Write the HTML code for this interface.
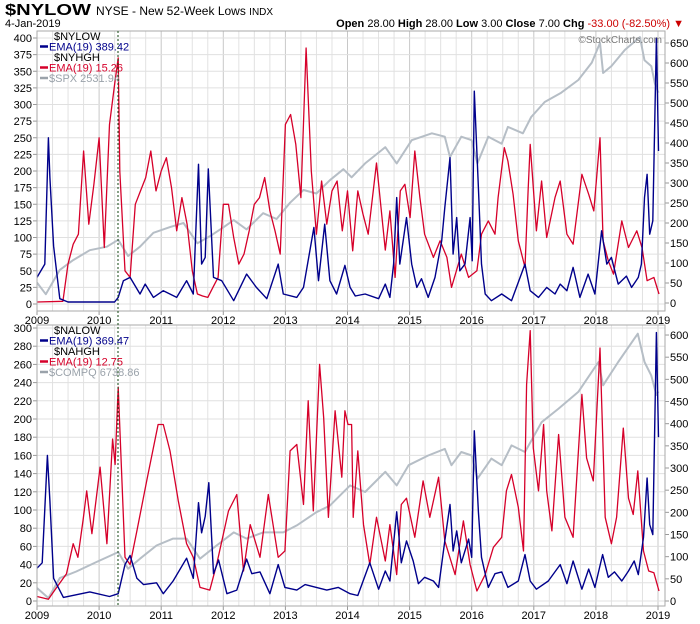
<!DOCTYPE html>
<html><head><meta charset="utf-8"><style>
body{margin:0;background:#fff;font-family:"Liberation Sans",sans-serif;}
svg{display:block}
</style></head><body>
<svg id="c" width="700" height="624" viewBox="0 0 700 624">
<text x="5" y="15" font-size="16" font-weight="bold" fill="#000" textLength="86" lengthAdjust="spacingAndGlyphs">$NYLOW</text>
<text x="96" y="15" font-size="12" fill="#000">NYSE - New 52-Week Lows <tspan font-size="10">INDX</tspan></text>
<text x="5" y="27" font-size="11" fill="#000">4-Jan-2019</text>
<text x="684" y="27" font-size="11" text-anchor="end" fill="#000"><tspan font-weight="bold">Open</tspan> 28.00  <tspan font-weight="bold">High</tspan> 28.00  <tspan font-weight="bold">Low</tspan> 3.00  <tspan font-weight="bold">Close</tspan> 7.00  <tspan font-weight="bold">Chg</tspan> <tspan fill="#c00">-33.00 (-82.50%)</tspan> <tspan fill="#c00">▼</tspan></text>
<g id="g"></g>
<text x="662" y="43" font-size="10" text-anchor="end" fill="#777">©StockCharts.com</text>
</svg>
<script>
// ---- data (months since Jan 2009) ----
const years=[2009,2010,2011,2012,2013,2014,2015,2016,2017,2018,2019];
const topLeftTicks=[0,25,50,75,100,125,150,175,200,225,250,275,300,325,350,375,400];
const topRightTicks=[0,50,100,150,200,250,300,350,400,450,500,550,600,650];
const botLeftTicks=[0,20,40,60,80,100,120,140,160,180,200,220,240,260,280,300];
const botRightTicks=[0,50,100,150,200,250,300,350,400,450,500,550,600];

const nyhghT=[0,5,6,7,8,9,10,11,12,13,14,15,15.7,16,17,18,19,20,21,22,23,24,25,26,27,28,29,30,31,32,33,34,35,36,37,38,39,40,41,42,43,44,45,46,47,48,49,50,51,52,53,54,55,56,57,58,59,60,61,62,63,64,65.6,67.3,68.2,69.2,70.2,71.1,72.1,73,74,74.9,76.6,77.9,79.2,80.1,82,83.4,85,85.9,87.2,88.5,89.1,90.3,91,92,93,94.3,94.9,95.3,96.5,97.5,98.5,100.1,101.1,102.4,103.6,105.3,106.6,107.6,108.8,109.4,110.4,111.4,113,114.3,115.9,116.9,117.9,119.2,120.2];
const nyhghV=[3,4,60,90,105,230,120,180,250,85,270,330,370,200,50,40,150,170,190,230,170,200,220,175,110,160,120,50,15,12,10,25,40,150,150,100,60,75,110,150,160,190,140,110,75,270,285,240,160,385,200,105,185,120,170,185,110,170,80,170,135,105,212,81,140,40,170,180,130,230,160,105,70,95,70,25,75,40,50,105,125,105,160,235,215,165,95,55,170,240,110,185,100,160,185,105,90,195,165,140,250,95,65,45,125,85,110,85,35,40,15];
const nylowT=[0,1.5,2.2,2.5,3.2,4.4,6,10,15,15.7,16.7,18,19.9,20.9,22.5,24.4,27,28.9,30.2,31.2,31.8,32.5,33.1,34.1,35.7,38,40.5,42.4,44.4,46.6,47.6,50.2,51.5,53.5,54.4,55.6,56.6,57.9,59.5,60.5,61.5,63.4,66,67.3,68.2,68.9,69.5,70.1,71.4,72.4,73.4,74.3,75.6,76.9,78.2,78.8,79.8,80.4,81.1,81.7,82.7,83.7,84.1,84.5,85.3,85.9,86.6,87.8,89.8,91.7,94.3,95.3,96.9,98.5,100.1,101.1,102.4,103.6,104.9,106.5,107.8,109.1,110.1,111,112.3,113.9,114.9,116.2,116.8,117.4,117.9,118.4,119,119.7,120.1];
const nylowV=[40,60,250,190,87,8,3,3,3,10,35,40,15,30,10,20,10,35,15,210,60,70,203,40,35,5,45,25,8,60,15,10,25,115,35,120,35,15,58,25,12,15,8,30,10,60,160,60,130,60,25,38,10,40,95,145,220,75,130,50,60,130,65,320,175,60,15,5,15,5,60,20,10,25,15,30,20,55,10,45,15,110,60,70,30,42,25,40,60,160,195,105,125,400,230];
const spxT=[0,1.7,4.4,7,10.2,13.5,15.7,17.6,19.9,22.5,25.7,28.3,31,33.4,36.1,38,40.5,43.7,46.3,48.9,51.5,54,56.6,59.2,60.8,63.4,67.3,69.5,72.4,76.3,78.8,79.8,82,84,85.1,87.2,89.8,91,93.9,95.5,98.1,101.3,104.6,107.2,108.8,109.4,111,113.6,116.5,117.4,118.7,119.4,120.1];
const spxV=[800,700,910,995,1080,1110,1170,1030,1110,1230,1280,1315,1140,1200,1280,1340,1260,1400,1350,1490,1600,1570,1685,1780,1710,1830,1970,1830,2030,2090,2060,1885,2060,2030,1830,2060,2000,2145,2090,2230,2360,2440,2550,2700,2870,2610,2670,2810,2920,2720,2670,2520,2440];

const nahghT=[0,2.2,3.8,5.7,7,7.9,8.9,9.6,10.6,12.2,13.5,14.6,15.1,15.7,17,18,19.3,21.2,23.4,24.4,25.7,27.3,28.9,30.2,31.5,33.4,34.7,37,38.6,39.9,41.2,43.1,44.7,46.6,47.9,48.9,50.2,51.5,52.4,53.4,54.6,55.4,56.3,57.6,58.9,59.5,60.1,60.8,61.1,62,63.1,64.3,65.6,67.3,68.2,69.5,70.4,71.4,73,74.6,75.9,77.6,78.8,80.8,82.4,83.7,85,86.6,88.2,89.8,90.7,91.7,93,94,94.6,95.3,95.9,96.9,97.9,98.5,99.5,100.8,102,103.6,105.3,106.2,107.5,108.8,109.8,111,112,113.3,114.3,115.2,116.1,117.2,118.2,119.2,120.2];
const nahghV=[5,2,15,30,63,48,89,121,74,147,63,178,150,235,48,40,77,132,194,194,165,110,63,48,15,12,40,99,117,33,84,48,117,48,55,165,172,106,220,99,260,201,92,209,136,209,194,194,92,165,84,40,92,44,84,29,106,113,70,132,92,136,66,29,88,40,11,29,59,70,121,139,103,55,238,297,168,121,194,121,77,183,92,70,227,157,132,278,92,63,92,190,113,95,143,55,33,31,11];
const nalowT=[0,1,2,2.5,3.2,5.1,10.2,14,15.7,17,18,19.3,20.6,23.1,24.4,26.3,28.9,30.2,31.2,31.8,32.5,33.2,34.1,35.1,36.7,38.6,40.5,41.5,43.1,45,46.6,47.9,50.2,51.8,54,56,58.2,60.5,62,64.3,66,67.3,68.2,69.5,70.4,71.4,72.7,73.7,74.9,76.6,77.6,78.8,79.8,80.4,81.1,82,83.4,84,84.5,85.3,85.9,87.2,88.5,89.8,91,93,94.3,95.3,96.5,98.8,101.1,102.4,103.6,105.3,106.6,107.8,109.3,110.4,111.6,113,114.3,115.4,116.2,117.2,117.9,118.4,119,119.7,120.1];
const nalowV=[36,42,160,110,25,4,10,5,8,40,50,25,18,20,8,22,47,25,108,75,93,130,30,45,8,12,46,30,32,8,40,15,12,18,15,12,15,8,6,42,13,33,22,98,42,66,44,19,26,22,15,66,106,55,77,42,68,48,187,98,48,15,30,32,15,22,51,22,13,22,40,19,44,13,35,15,51,26,32,22,33,44,29,70,135,84,73,295,180];
const compqT=[0,2.2,4.4,7.6,11.5,15.7,17.6,19.9,23.1,26.3,28.9,31.5,34.7,38,40.5,43.7,47.6,50.2,54,56.6,60.5,63.4,67.3,69.5,71.8,75.6,78.8,80.1,82,84,85.1,87.8,89.8,91.7,94.3,97.5,100.8,104.6,108.5,109.4,112.3,116.1,117.4,118.7,119.7,120.1];
const compqV=[1525,1268,1780,1950,2195,2450,2020,2280,2620,2800,2800,2280,2620,2960,2800,2960,2960,3140,3480,3650,4170,4000,4520,4170,4690,4940,5110,4690,5030,4940,4340,4860,4690,5200,5030,5800,6150,6580,7350,6750,7350,8080,7350,7000,6500,6590];

// ---- geometry ----
const NS='http://www.w3.org/2000/svg';
const G=document.getElementById('g');
const X0=37,X1=665;
const xS=m=>X0+m*5.175;
const P1={top:31,bot:311,yL:v=>304-v*0.665,yR:v=>303-v*0.4,yP:v=>297-(v-676)*0.1158};
const P2={top:325,bot:606,yL:v=>601-v*0.91,yR:v=>601-v*0.4433,yP:v=>598-(v-1268)*0.0388};
function mk(tag,attrs,parent){const e=document.createElementNS(NS,tag);for(const k in attrs)e.setAttribute(k,attrs[k]);(parent||G).appendChild(e);return e;}

function panel(P,id,lt,rt,series,legend){
  const g=mk('g',{});
  
  
  const cp=mk('clipPath',{id:id+'clip'},g);
  mk('rect',{x:X0,y:P.top,width:X1-X0,height:P.bot-P.top},cp);
  for(let q=0;q<=40;q++){const x=xS(q*3);
    const l=mk('line',{x1:x,x2:x,y1:P.top,y2:P.bot,stroke:q%4==0?'#c8c8c8':'#e2e2e2','stroke-width':1},g);
    
    }
  lt.forEach(v=>{const y=P.yL(v);
    const l=mk('line',{x1:X0,x2:X1,y1:y,y2:y,stroke:'#e0e0e0'},g);
    
    
    mk('line',{x1:X0-4,x2:X0,y1:y,y2:y,stroke:'#999'},g);
    const t=mk('text',{x:X0-5,y:y+4,'font-size':11,'text-anchor':'end',fill:'#000'},g);t.textContent=v;
    
    });
  rt.forEach(v=>{const y=P.yR(v);
    mk('line',{x1:X1,x2:X1+4,y1:y,y2:y,stroke:'#999'},g);
    const t=mk('text',{x:X1+5,y:y+4,'font-size':11,fill:'#000'},g);t.textContent=v;
    
    });
  years.forEach((yr,i)=>{const x=xS(i*12);
    mk('line',{x1:x,x2:x,y1:P.bot,y2:P.bot+4,stroke:'#999'},g);
    const t=mk('text',{x:x,y:P.bot+13,'font-size':11,'text-anchor':'middle',fill:'#000'},g);t.textContent=yr;
    
    });
  const sg=mk('g',{'clip-path':'url(#'+id+'clip)'},g);
  series.forEach(s=>{
    const d=s.t.map((m,i)=>(i?'L':'M')+xS(m).toFixed(1)+','+s.y(s.v[i]).toFixed(1)).join('');
    const p=mk('path',{d:d,fill:'none',stroke:s.c,'stroke-width':s.w,'stroke-linejoin':'round'},sg);
    
    
  });
  const fr=mk('rect',{x:X0,y:P.top,width:X1-X0,height:P.bot-P.top,fill:'none',stroke:'#aaa'},g);
  
  
  const lg=mk('g',{},g);
  
  
  legend.forEach((L,i)=>{const y=P.top+9+i*10.5;
    if(L.c){mk('line',{x1:40,x2:48,y1:y-4,y2:y-4,stroke:L.c,'stroke-width':2.5},lg);}
    const t=mk('text',{x:L.c?49:54,y:y,'font-size':11,fill:L.c||'#000'},lg);t.textContent=L.s;
    
    });
}
panel(P1,'top',topLeftTicks,topRightTicks,[
  {name:'spx-line',t:spxT,v:spxV,y:P1.yP,c:'#b6bec6',w:2},
  {name:'nyhgh-ema-line',t:nyhghT,v:nyhghV,y:P1.yL,c:'#d6002a',w:1.3},
  {name:'nylow-ema-line',t:nylowT,v:nylowV,y:P1.yL,c:'#00008b',w:1.4}],
  [{s:'$NYLOW'},{s:'EMA(19) 389.42',c:'#00008b'},{s:'$NYHGH'},{s:'EMA(19) 15.26',c:'#d6002a'},{s:'$SPX 2531.94',c:'#9aa2aa'}]);
panel(P2,'bot',botLeftTicks,botRightTicks,[
  {name:'compq-line',t:compqT,v:compqV,y:P2.yP,c:'#b6bec6',w:2},
  {name:'nahgh-ema-line',t:nahghT,v:nahghV,y:P2.yL,c:'#d6002a',w:1.3},
  {name:'nalow-ema-line',t:nalowT,v:nalowV,y:P2.yL,c:'#00008b',w:1.4}],
  [{s:'$NALOW'},{s:'EMA(19) 369.47',c:'#00008b'},{s:'$NAHGH'},{s:'EMA(19) 12.75',c:'#d6002a'},{s:'$COMPQ 6738.86',c:'#9aa2aa'}]);
const dl=mk('line',{x1:118,x2:118,y1:31,y2:606,stroke:'#114411','stroke-dasharray':'2,2','stroke-width':1});


</script>
</body></html>
